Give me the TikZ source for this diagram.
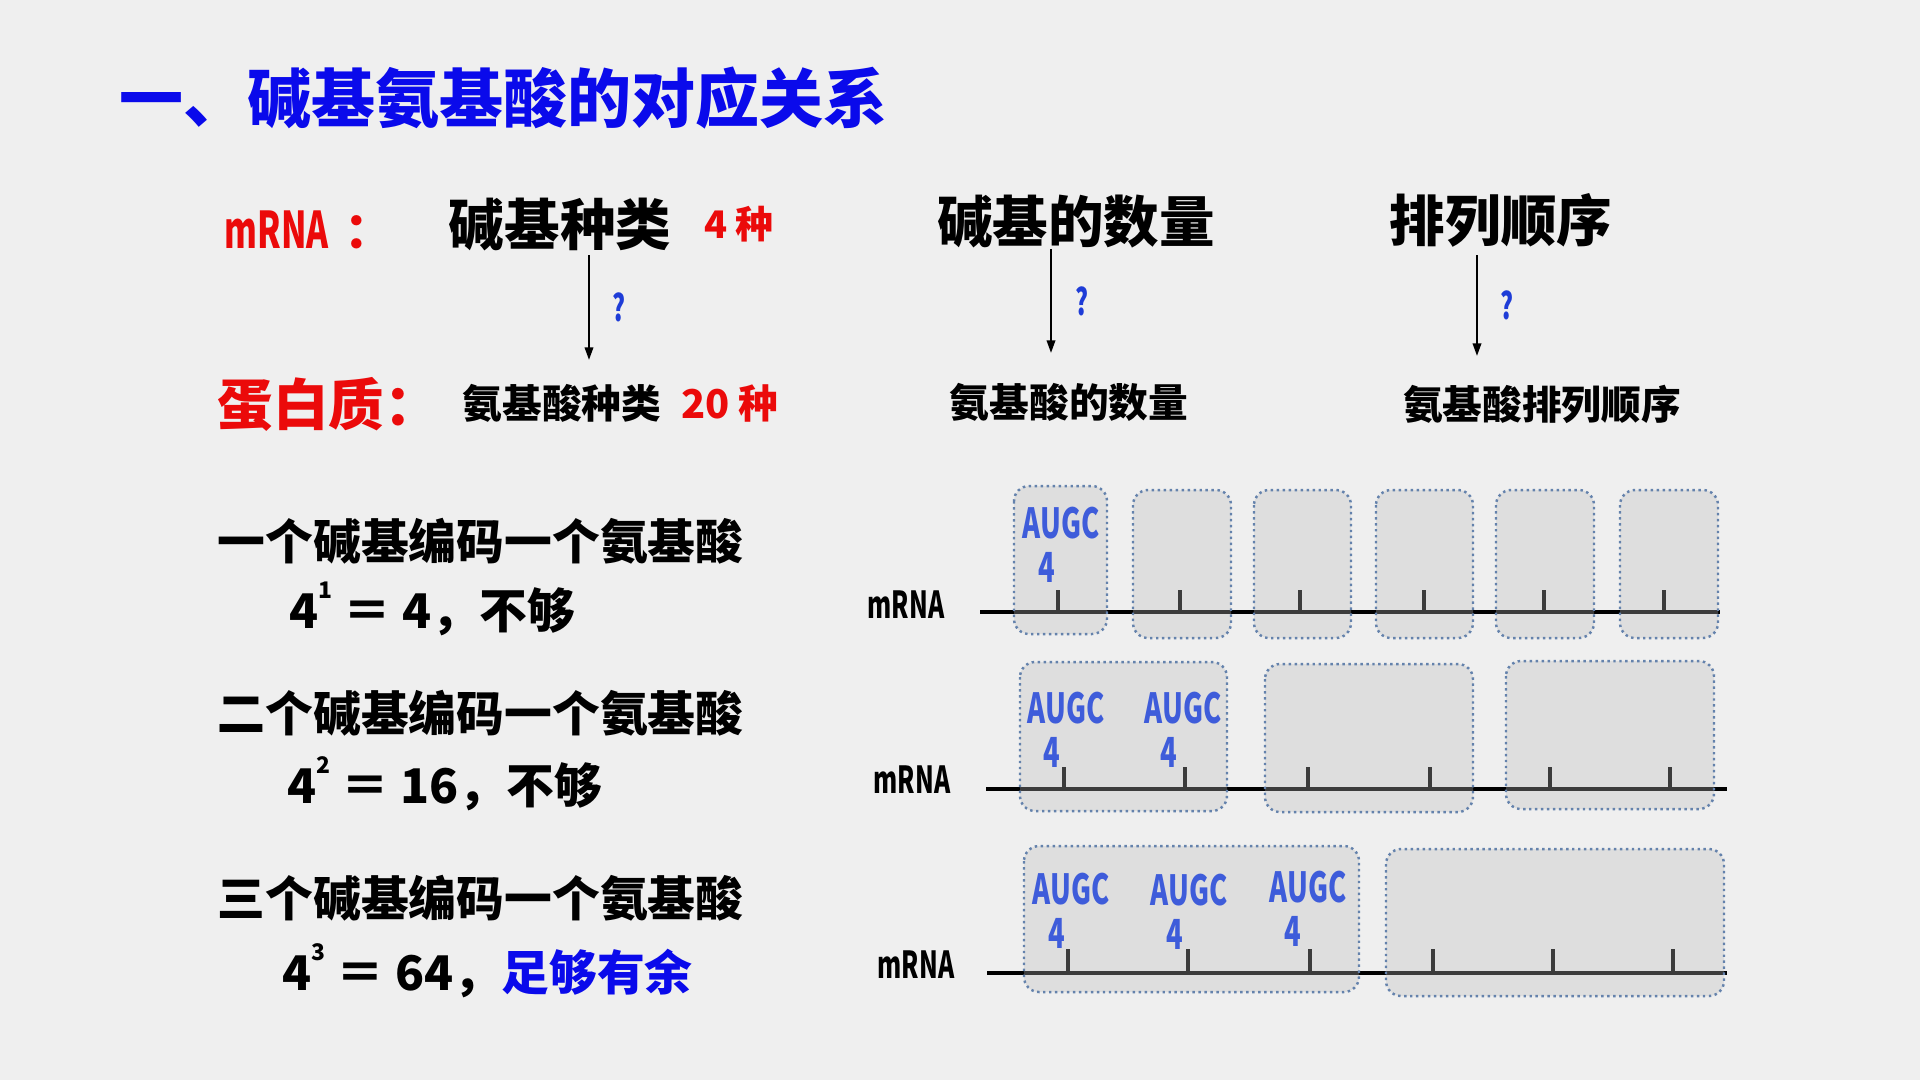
\documentclass[tikz,border=0pt]{standalone}
\usepackage{fontspec}
\setmainfont{Noto Sans CJK SC}
\usepackage{graphicx}
\usepackage{xcolor}
\usetikzlibrary{arrows.meta}

\definecolor{pagebg}{RGB}{239,239,239}
\definecolor{titleblue}{RGB}{10,10,235}
\definecolor{hdred}{RGB}{235,10,10}
\definecolor{qblue}{RGB}{30,60,215}
\definecolor{augcblue}{RGB}{62,92,218}
\definecolor{cellline}{RGB}{100,130,172}
\definecolor{cellfill}{RGB}{187,187,187}

\newcommand\fsz[1]{\fontsize{#1}{#1}\selectfont}
\newcommand\pw[1]{\raisebox{0.62em}{\fsz{6.5pt}#1}}
\newcommand\cond[1]{\scalebox{0.66}[1]{#1}}

\tikzset{
  ttl/.style={font=\fsz{18.2pt}\bfseries, text=titleblue, anchor=west, inner sep=0pt},
  hd/.style={font=\fsz{15.8pt}\bfseries, inner sep=0pt},
  aatxt/.style={font=\fsz{11.3pt}\bfseries, inner sep=0pt},
  cnt/.style={font=\fsz{10.8pt}\bfseries, text=hdred, inner sep=0pt},
  stmt/.style={font=\fsz{13.6pt}\bfseries, anchor=west, inner sep=0pt},
  qm/.style={font=\fsz{10.5pt}\bfseries, text=qblue, inner sep=0pt},
  lbl/.style={font=\fsz{10.6pt}\bfseries, anchor=west, inner sep=0pt},
  basetxt/.style={font=\fsz{11.8pt}\bfseries, text=augcblue, inner sep=0pt},
  codonbox/.style={draw=cellline, densely dotted, line width=0.7pt, rounded corners=4.3pt,
    fill=cellfill, fill opacity=0.32},
  strand/.style={line width=1.4pt},
  tickmark/.style={line width=1pt},
  arr/.style={-{Triangle[length=3.6pt,width=2.4pt]}, line width=0.6pt}
}

\begin{document}
\begin{tikzpicture}[x=0.1mm,y=-0.1mm]
\fill[pagebg] (0,0) rectangle (1920,1080);
\useasboundingbox (0,0) rectangle (1920,1080);

% title
\node[ttl] (title) at (119,98) {一、碱基氨基酸的对应关系};

% mRNA row
\node[anchor=west, inner sep=0pt, text=hdred, font=\bfseries] (mhead) at (224,230)
  {{\fsz{14.4pt}\cond{mRNA}}\hspace{0.45em}{\fsz{14pt}：}};
\node[hd] (bt1) at (560,224) {碱基种类};
\node[cnt] (n4) at (739,224) {4 种};
\node[hd] (bt2) at (1076,222) {碱基的数量};
\node[hd] (bt3) at (1501,220) {排列顺序};

% protein row
\node[hd, anchor=west, text=hdred] (prot) at (217,404) {蛋白质：};
\node[aatxt] (at1) at (562,403) {氨基酸种类};
\node[cnt, font=\fsz{11.3pt}\bfseries] (n20) at (730,403) {20 种};
\node[aatxt] (at2) at (1069,402) {氨基酸的数量};
\node[aatxt] (at3) at (1542,404) {氨基酸排列顺序};

% arrows
\coordinate (s1) at (589,255);
\coordinate (e1) at (589,360);
\coordinate (s2) at (1051,249);
\coordinate (e2) at (1051,353);
\coordinate (s3) at (1477,255);
\coordinate (e3) at (1477,356);
\draw[arr] (s1) -- (e1) node[qm, midway, right=2.2mm] {\cond{?}};
\draw[arr] (s2) -- (e2) node[qm, midway, right=2.3mm] {\cond{?}};
\draw[arr] (s3) -- (e3) node[qm, midway, right=2.2mm] {\cond{?}};

% statements
\node[stmt] (st1) at (217,541) {一个碱基编码一个氨基酸};
\node[stmt] (f1) at (289,609) {4\pw{1} ＝ 4，不够};
\node[stmt] (st2) at (217,713) {二个碱基编码一个氨基酸};
\node[stmt] (f2) at (287,784) {4\pw{2} ＝ 16，不够};
\node[stmt] (st3) at (217,898) {三个碱基编码一个氨基酸};
\node[stmt] (f3) at (282,971) {4\pw{3} ＝ 64，\textcolor{titleblue}{足够有余}};

% one base per codon
\node[lbl] (m1) at (867,605) {\cond{mRNA}};
\draw[strand] (980,612) -- (1720,612);
\foreach \x in {1058,1180,1300,1424,1544,1664}
  \draw[tickmark] (\x,612) -- (\x,590);
\draw[codonbox] (1014,486) rectangle (1107,634);
\foreach \a/\b in {1133/1231,1254/1351,1376/1473,1496/1594,1620/1718}
  \draw[codonbox] (\a,490) rectangle (\b,638);
\node[basetxt] (g11) at (1061,523) {\cond{AUGC}};
\node[basetxt] (c11) at (1047,567) {\cond{4}};

% two bases per codon
\node[lbl] (m2) at (873,780) {\cond{mRNA}};
\draw[strand] (986,789) -- (1727,789);
\foreach \x in {1064,1185,1308,1430,1550,1670}
  \draw[tickmark] (\x,789) -- (\x,767);
\draw[codonbox] (1020,662) rectangle (1227,811);
\draw[codonbox] (1265,664) rectangle (1473,812);
\draw[codonbox] (1506,661) rectangle (1714,809);
\node[basetxt] (g21) at (1066,708) {\cond{AUGC}};
\node[basetxt] (g22) at (1183,708) {\cond{AUGC}};
\node[basetxt] (c21) at (1052,752) {\cond{4}};
\node[basetxt] (c22) at (1169,752) {\cond{4}};

% three bases per codon
\node[lbl] (m3) at (877,965) {\cond{mRNA}};
\draw[strand] (987,973) -- (1727,973);
\foreach \x in {1068,1188,1310,1433,1553,1673}
  \draw[tickmark] (\x,973) -- (\x,949);
\draw[codonbox] (1024,846) rectangle (1359,992);
\draw[codonbox] (1386,849) rectangle (1724,996);
\node[basetxt] (g31) at (1071,889) {\cond{AUGC}};
\node[basetxt] (g32) at (1189,890) {\cond{AUGC}};
\node[basetxt] (g33) at (1308,887) {\cond{AUGC}};
\node[basetxt] (c31) at (1057,933) {\cond{4}};
\node[basetxt] (c32) at (1175,934) {\cond{4}};
\node[basetxt] (c33) at (1293,931) {\cond{4}};
\end{tikzpicture}
\end{document}
